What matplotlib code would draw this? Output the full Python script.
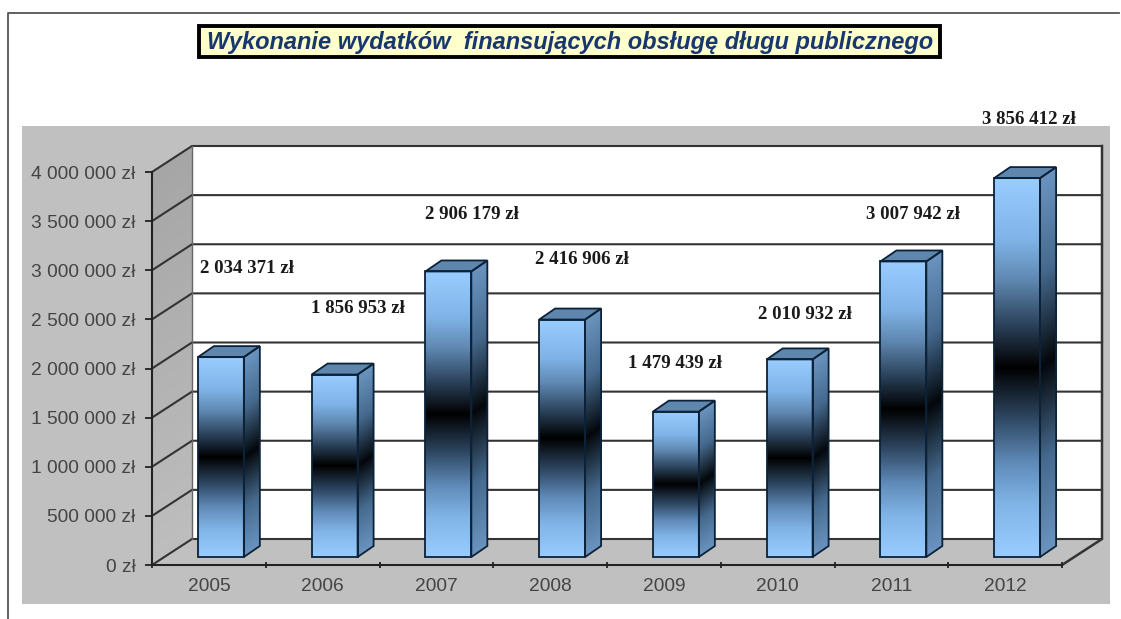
import matplotlib
matplotlib.use('Agg')
import matplotlib.pyplot as plt
import numpy as np
from matplotlib.colors import LinearSegmentedColormap
from matplotlib.patches import Polygon, Rectangle
from matplotlib.ticker import FuncFormatter
from matplotlib.transforms import Affine2D

years = ['2005', '2006', '2007', '2008', '2009', '2010', '2011', '2012']
values = [2034371, 1856953, 2906179, 2416906, 1479439, 2010932, 3007942, 3856412]
y_ticks = [0, 500000, 1000000, 1500000, 2000000, 2500000, 3000000, 3500000, 4000000]
title = 'Wykonanie wydatków  finansujących obsługę długu publicznego'

# hand placed value labels in the original, pixels from the bar top centre
label_dx = [26, 23, 24, 20, -1, 15, 10, 12]
label_dy = [89, 66, 57, 60, 48, 45, 47, 59]

W, H = 1121, 619
DEPTH = (40, 26)
BAR_DEPTH = (16, 11)
BAR_SHIFT = (12, 8)
BAR_W = 0.404

front_cmap = LinearSegmentedColormap.from_list('front', [
    (0.0, '#99ccff'), (0.14, '#80b4e6'), (0.25, '#5f8ab8'), (0.37, '#2c4560'), (0.5, '#000000'),
    (0.61, '#2a4058'), (0.73, '#5f87b0'), (0.84, '#80b4e8'), (1.0, '#99ccff')])
side_cmap = LinearSegmentedColormap.from_list('side', [
    (0.0, '#6a94c0'), (0.25, '#466a8e'), (0.5, '#03070b'), (0.75, '#466a8e'), (1.0, '#6a94c0')])
wall_cmap = LinearSegmentedColormap.from_list('wall', ['#bebebe', '#a6a6a6'])


def shade_face(ax, cmap, origin, xvec, yvec, zorder):
    grad = np.linspace(0, 1, 256).reshape(-1, 1)
    im = ax.imshow(grad, cmap=cmap, extent=(0, 1, 0, 1), origin='lower',
                   aspect='auto', interpolation='bilinear', zorder=zorder)
    im.set_transform(Affine2D.from_values(xvec[0], xvec[1], yvec[0], yvec[1], origin[0], origin[1]))
    im.set_clip_on(False)


def main():
    plt.rcParams['font.family'] = ['Liberation Sans', 'DejaVu Sans']
    fig = plt.figure(figsize=(W / 100, H / 100), dpi=100, facecolor='white')

    # page furniture in pixel coordinates
    bg = fig.add_axes([0, 0, 1, 1])
    bg.set_xlim(0, W)
    bg.set_ylim(H, 0)
    bg.axis('off')
    bg.add_patch(Rectangle((22, 126), 1088, 478, fc='#c0c0c0', ec='none'))
    bg.plot([8, 8, 1119], [H, 13, 13], color='#555555', lw=1.3)
    bg.add_patch(Rectangle((199, 26), 741, 31, fc='#ffffcc', ec='black', lw=2.8))
    bg.text(570, 42.5, title, ha='center', va='center', fontsize=17, weight='bold',
            style='italic', color='#17376e')

    ax = fig.add_axes([152 / W, 1 - 565 / H, 910 / W, 393 / H])
    ax.patch.set_visible(False)
    ax.set_xlim(0, len(years))
    ax.set_ylim(0, 4000000)

    offset = Affine2D().translate(*DEPTH)
    back = ax.transData + offset

    # back wall, floor and left wall
    ax.add_patch(Rectangle((0, 0), len(years), 4000000, fc='white', ec='none', transform=back,
                           zorder=1, clip_on=False))
    p00 = ax.transData.transform((0, 0))
    p01 = ax.transData.transform((0, 4000000))
    p80 = ax.transData.transform((len(years), 0))
    ax.add_patch(Polygon([p00, p80, p80 + DEPTH, p00 + DEPTH], closed=True, fc='#c0c0c0', ec='none',
                         transform=None, zorder=1))
    shade_face(ax, wall_cmap, p00, DEPTH, p01 - p00, 1)

    for v in y_ticks:
        p = ax.transData.transform((0, v))
        q = ax.transData.transform((len(years), v))
        ax.plot([p[0], p[0] + DEPTH[0], q[0] + DEPTH[0]], [p[1], p[1] + DEPTH[1], q[1] + DEPTH[1]],
                color='#333333', lw=1.5, transform=None, clip_on=False, zorder=2)
    ax.plot([p00[0] + DEPTH[0]] * 2, [p00[1] + DEPTH[1], p01[1] + DEPTH[1]],
            color='#666666', lw=1.0, transform=None, clip_on=False, zorder=2)
    ax.plot([p80[0], p80[0] + DEPTH[0], p80[0] + DEPTH[0]],
            [p80[1], p80[1] + DEPTH[1], p01[1] + DEPTH[1]],
            color='#333333', lw=1.8, transform=None, clip_on=False, zorder=2)

    # bars
    for i, v in enumerate(values):
        x0 = ax.transData.transform((i + 0.5 - BAR_W / 2, 0)) + BAR_SHIFT
        x1 = ax.transData.transform((i + 0.5 + BAR_W / 2, 0)) + BAR_SHIFT
        h = ax.transData.transform((0, v))[1] - ax.transData.transform((0, 0))[1]
        up = np.array([0, h])
        d = np.array(BAR_DEPTH)
        shade_face(ax, front_cmap, x0, x1 - x0, up, 4)
        shade_face(ax, side_cmap, x1, d, up, 4)
        ax.add_patch(Polygon([x0 + up, x1 + up, x1 + up + d, x0 + up + d], closed=True, fc='#5f86ad',
                             ec='#0b2239', lw=1.3, transform=None, zorder=5, clip_on=False))
        ax.add_patch(Polygon([x0, x1, x1 + up, x0 + up], closed=True, fc='none',
                             ec='#0b2239', lw=1.3, transform=None, zorder=5, clip_on=False))
        ax.add_patch(Polygon([x1, x1 + d, x1 + d + up, x1 + up], closed=True, fc='none',
                             ec='#0b2239', lw=1.3, transform=None, zorder=5, clip_on=False))
        mid = (x0 + x1) / 2 + up + (label_dx[i], label_dy[i])
        ax.text(mid[0], mid[1], f'{v:,} zł'.replace(',', ' '), transform=None, ha='center', va='center',
                fontsize=13.6, weight='bold', family=['Liberation Serif', 'DejaVu Serif'],
                color='#1a1a1a', zorder=6, clip_on=False)

    # real axes on the front plane
    ax.set_xlim(0, len(years))
    ax.set_ylim(0, 4000000)
    ax.set_xticks(np.arange(len(years) + 1))
    ax.set_xticks(np.arange(len(years)) + 0.5, labels=years, minor=True)
    ax.set_xticklabels([])
    ax.set_yticks(y_ticks)
    ax.yaxis.set_major_formatter(FuncFormatter(lambda v, pos: f'{int(v):,} zł'.replace(',', ' ')))
    ax.tick_params(axis='y', length=5, width=1.3, color='#222222', labelsize=13.8, labelcolor='#444444', pad=7)
    ax.tick_params(axis='x', which='major', direction='inout', length=5, width=1.3, color='#222222')
    ax.tick_params(axis='x', which='minor', length=0, labelsize=13.8, labelcolor='#444444', pad=9.5)
    for side in ['top', 'right']:
        ax.spines[side].set_visible(False)
    for side in ['left', 'bottom']:
        ax.spines[side].set_linewidth(1.5)
        ax.spines[side].set_color('#222222')
        ax.spines[side].set_zorder(3)

    fig.savefig('out.png', dpi=100)


if __name__ == "__main__":
    main()
